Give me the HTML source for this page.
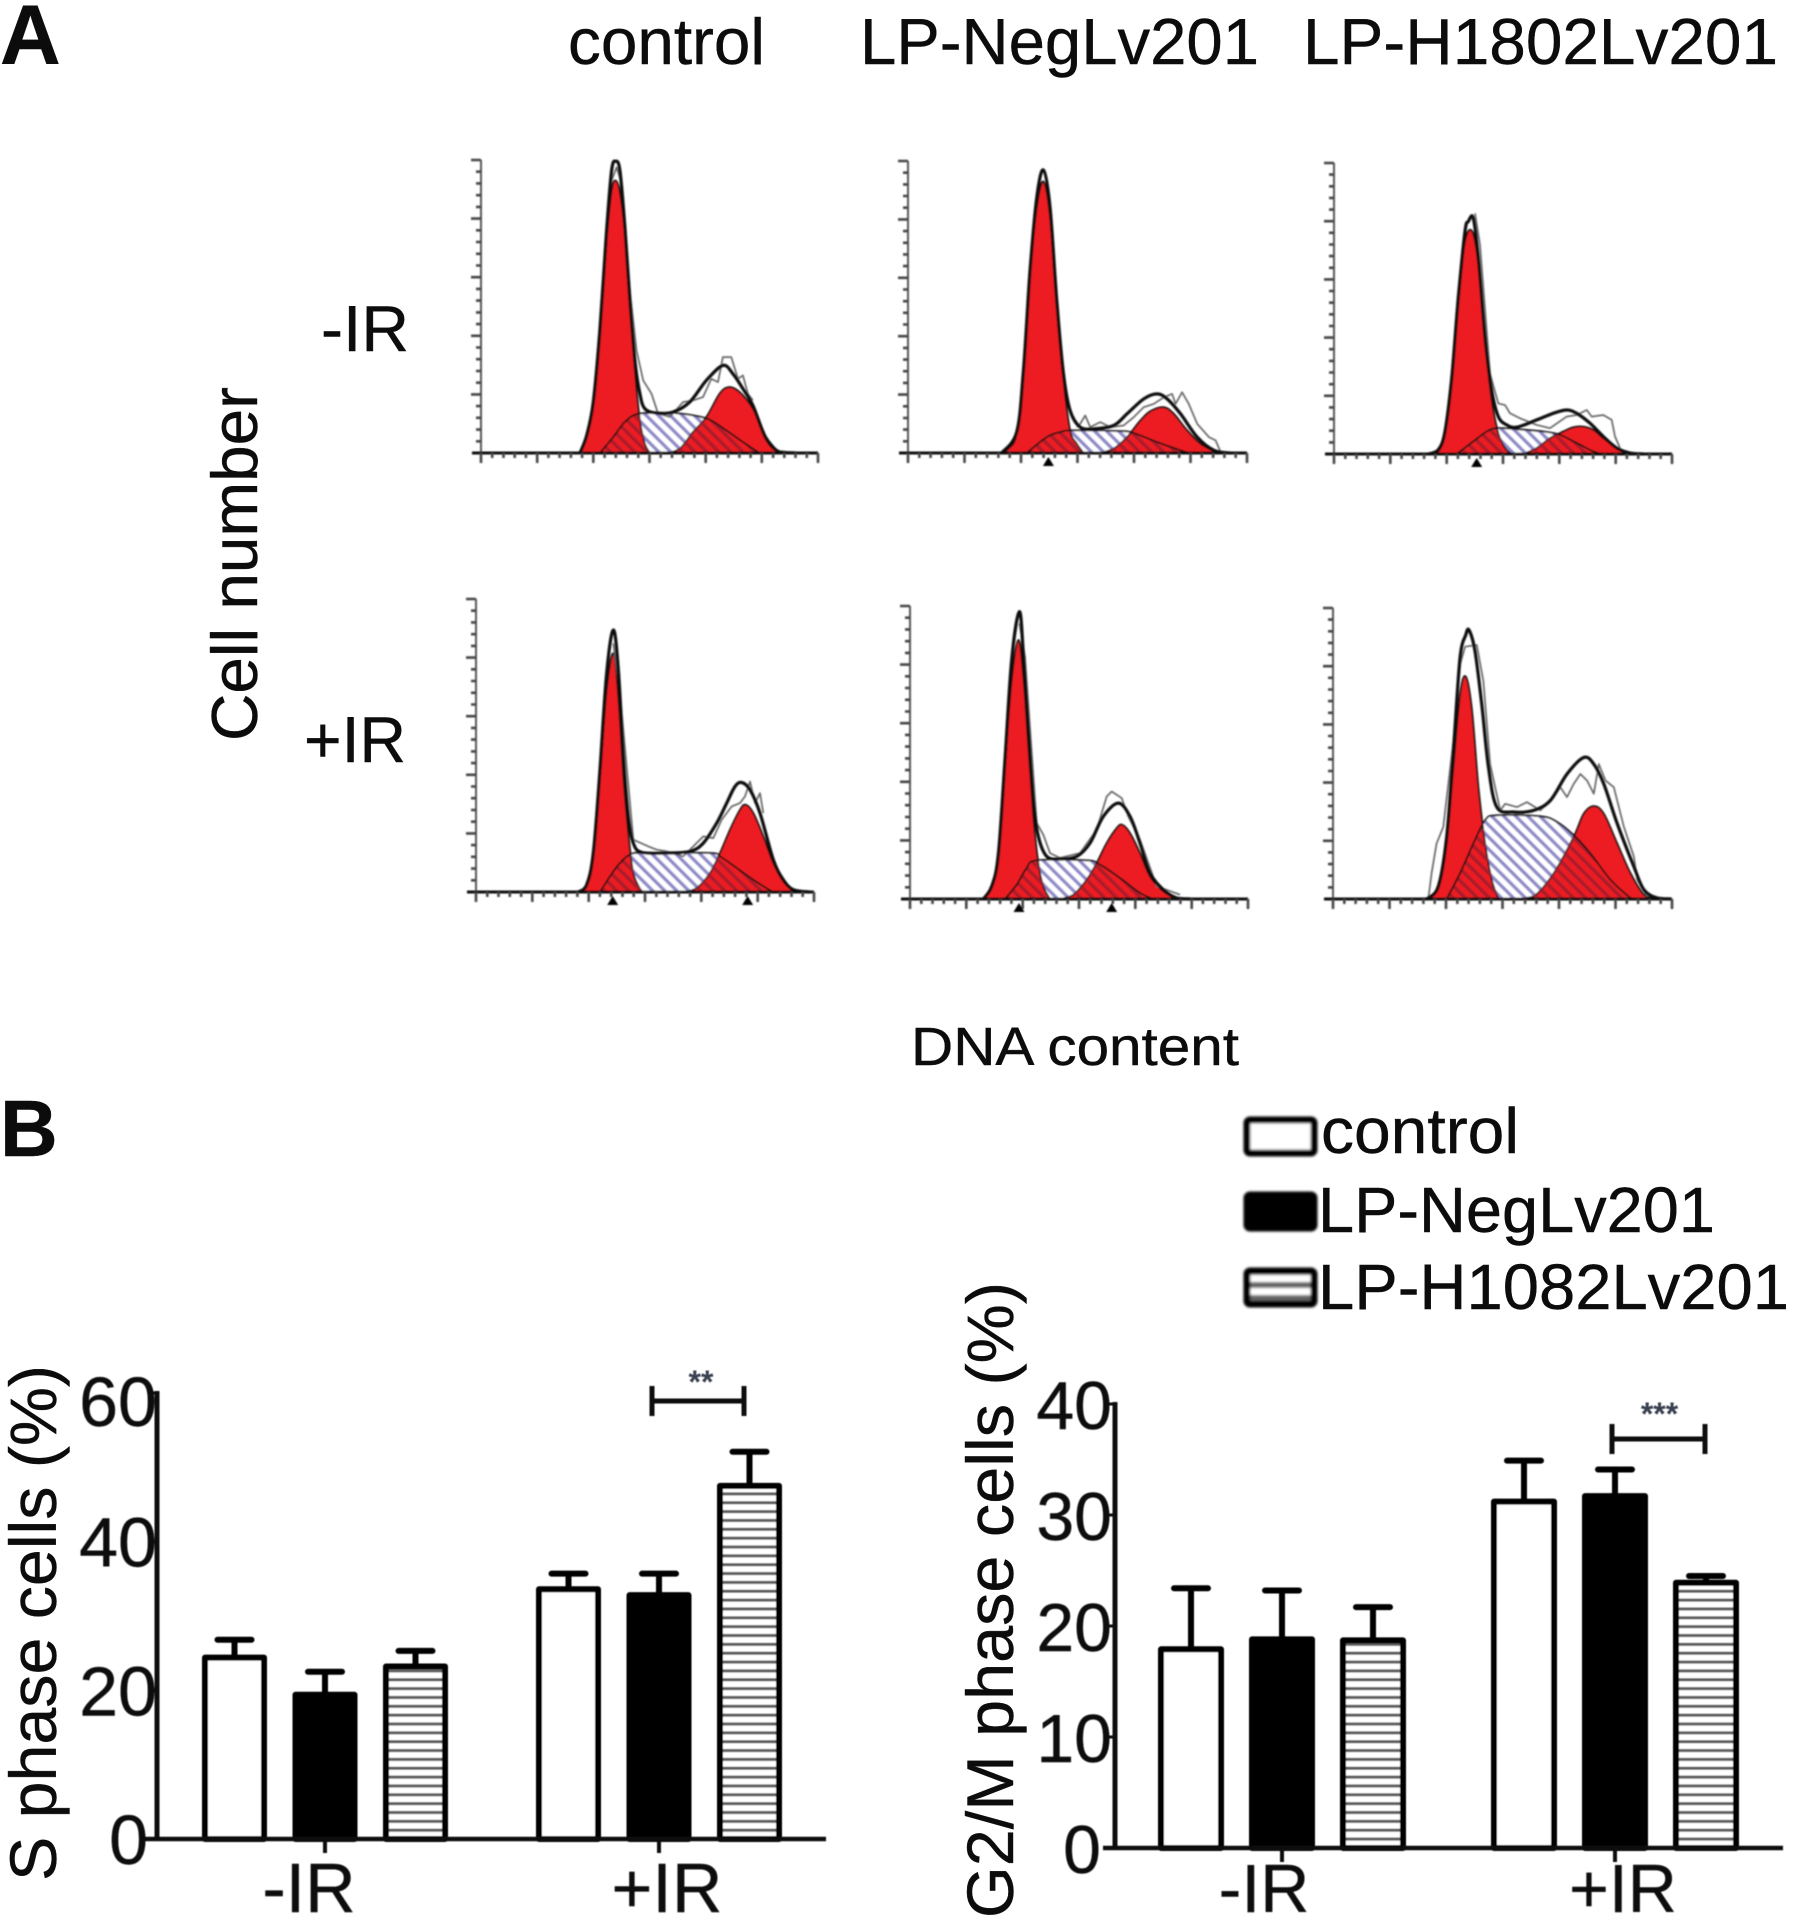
<!DOCTYPE html>
<html lang="en">
<head>
<meta charset="utf-8">
<title>Cell cycle histograms and bar charts</title>
<style>
html,body{margin:0;padding:0;background:#fff;}
body{width:1795px;height:1929px;overflow:hidden;}
svg{display:block;}
text{font-family:"Liberation Sans",Arial,sans-serif;fill:#0c0c0c;stroke:#0c0c0c;stroke-width:0.4;}
</style>
</head>
<body>
<svg id="figure" xmlns="http://www.w3.org/2000/svg" width="1795" height="1929" viewBox="0 0 1795 1929">
  <defs>
    <pattern id="hatch-s" patternUnits="userSpaceOnUse" width="8.5" height="8.5" patternTransform="rotate(-45)">
      <rect x="0" y="0" width="3.4" height="8.5" fill="#8c88c8"/>
    </pattern>
    <pattern id="hatch-red" patternUnits="userSpaceOnUse" width="8.5" height="8.5" patternTransform="rotate(-45)">
      <rect x="0" y="0" width="3.4" height="8.5" fill="#a81a2c"/>
    </pattern>
    <pattern id="stripes" patternUnits="userSpaceOnUse" width="8.85" height="8.85">
      <rect x="0" y="0" width="9" height="9" fill="#ffffff"/>
      <rect x="0" y="5.6" width="9" height="3" fill="#5c5c5c"/>
    </pattern>
    <pattern id="legend-stripes" patternUnits="userSpaceOnUse" width="13" height="13" y="1">
      <rect x="0" y="0" width="13" height="13" fill="#ffffff"/>
      <rect x="0" y="7" width="13" height="6" fill="#666666"/>
    </pattern>
    <filter id="soft" x="-5%" y="-5%" width="110%" height="110%"><feGaussianBlur stdDeviation="0.9"/></filter>
    <filter id="soft-bars" x="-5%" y="-5%" width="110%" height="110%"><feGaussianBlur stdDeviation="0.6"/></filter>
    <filter id="soft-box" x="-10%" y="-10%" width="120%" height="120%"><feGaussianBlur stdDeviation="1.4"/></filter>
  </defs>

  <text x="0" y="64" font-size="84" font-weight="bold">A</text>
  <text x="568" y="64" font-size="65" textLength="197" lengthAdjust="spacingAndGlyphs">control</text>
  <text x="860" y="64" font-size="65" textLength="399" lengthAdjust="spacingAndGlyphs">LP-NegLv201</text>
  <text x="1303" y="64" font-size="65" textLength="475" lengthAdjust="spacingAndGlyphs">LP-H1802Lv201</text>
  <text x="321" y="351" font-size="65" textLength="88" lengthAdjust="spacingAndGlyphs">-IR</text>
  <text x="304" y="762" font-size="65" textLength="102" lengthAdjust="spacingAndGlyphs">+IR</text>
  <text transform="translate(257,741) rotate(-90)" font-size="65" textLength="354" lengthAdjust="spacingAndGlyphs">Cell number</text>
  <text x="911" y="1065" font-size="54" textLength="328" lengthAdjust="spacingAndGlyphs">DNA content</text>

  <g id="histograms" filter="url(#soft)"></g>

  <text x="0" y="1156" font-size="80" font-weight="bold">B</text>

  <g>
    <g filter="url(#soft-box)">
      <rect x="1247" y="1120" width="67" height="33" fill="#fff" stroke="#000" stroke-width="7" rx="3"/>
      <rect x="1247" y="1195" width="67" height="33" fill="#000" stroke="#000" stroke-width="7" rx="3"/>
      <rect x="1247" y="1271" width="67" height="33" fill="url(#legend-stripes)" stroke="#000" stroke-width="7" rx="3"/>
    </g>
    <text x="1321" y="1153" font-size="64" textLength="198" lengthAdjust="spacingAndGlyphs">control</text>
    <text x="1318" y="1232" font-size="64" textLength="397" lengthAdjust="spacingAndGlyphs">LP-NegLv201</text>
    <text x="1318" y="1309" font-size="64" textLength="471" lengthAdjust="spacingAndGlyphs">LP-H1082Lv201</text>
  </g>

  <g id="chart-s" filter="url(#soft-bars)"></g>
  <g id="chart-g2" filter="url(#soft-bars)"></g>

  <text transform="translate(56,1881) rotate(-90)" font-size="66" textLength="516" lengthAdjust="spacingAndGlyphs">S phase cells (%)</text>
  <text transform="translate(1013,1918) rotate(-90)" font-size="66" textLength="636" lengthAdjust="spacingAndGlyphs">G2/M phase cells (%)</text>
</svg>

<script>
// ---- Bar chart data (percent of cells) ----
const categories = ['-IR', '+IR'];
const seriesNames = ['control', 'lp-neglv201', 'lp-h1082lv201'];
const sPhaseTickLabels = [0, 20, 40, 60];
const sPhaseControl = [24.4, 33.6];
const sPhaseNeg = [19.4, 32.8];
const sPhaseH1082 = [23.2, 47.5];
const sPhaseControlErrTop = [26.8, 35.7];
const sPhaseNegErrTop = [22.5, 35.7];
const sPhaseH1082ErrTop = [25.3, 52.1];
const g2mTickLabels = [0, 10, 20, 30, 40];
const g2mControl = [17.9, 31.2];
const g2mNeg = [18.8, 31.7];
const g2mH1082 = [18.7, 23.9];
const g2mControlErrTop = [23.4, 34.9];
const g2mNegErrTop = [23.2, 34.1];
const g2mH1082ErrTop = [21.7, 24.5];

// ---- Histogram data: [channel, count] ----
const ctrlMinusG1 = [[298,0],[318,48],[338,148],[358,368],[378,638],[393,788],[405,818],[418,783],[433,658],[448,448],[463,248],[478,98],[493,28],[508,0]];
const ctrlMinusS = [[358,0],[398,48],[428,88],[458,113],[498,120],[578,120],[638,113],[688,100],[738,68],[788,33],[838,0]];
const ctrlMinusG2 = [[558,0],[598,13],[638,63],[678,108],[718,178],[746,198],[778,183],[818,133],[858,48],[898,0]];
const ctrlMinusTotal = [[298,0],[318,53],[338,153],[358,373],[378,668],[393,848],[405,876],[418,848],[433,678],[448,458],[463,278],[478,178],[493,133],[528,120],[578,123],[628,153],[678,218],[728,263],[758,238],[788,193],[818,143],[858,43],[898,3],[948,0]];
const ctrlMinusRaw = [[393,818],[408,858],[423,808],[448,488],[468,308],[488,218],[513,178],[533,118],[568,108],[608,153],[638,158],[668,168],[693,223],[713,213],[728,288],[753,288],[773,223],[788,233],[803,178],[818,158]];
const ctrlMinusMarks = [];

const negMinusG1 = [[280,0],[300,13],[325,58],[345,238],[365,538],[385,738],[405,818],[425,708],[445,438],[465,218],[485,68],[505,28],[525,0]];
const negMinusS = [[355,0],[415,48],[455,63],[490,68],[635,66],[675,60],[745,33],[815,8],[845,0]];
const negMinusG2 = [[575,0],[615,13],[655,48],[695,98],[725,126],[765,138],[795,118],[835,68],[875,28],[925,0]];
const negMinusTotal = [[280,0],[325,63],[345,243],[365,548],[385,768],[405,853],[425,738],[445,458],[465,238],[485,128],[515,78],[555,73],[615,83],[655,118],[705,163],[745,178],[775,163],[815,118],[865,48],[915,8],[965,0]];
const negMinusRaw = [[505,78],[515,88],[530,113],[545,78],[575,93],[605,78],[645,83],[675,108],[705,138],[735,148],[765,168],[790,178],[800,148],[820,183],[840,148],[865,88],[900,48],[920,38],[935,3]];
const negMinusMarks = [420];

const hMinusG1 = [[283,0],[313,8],[333,63],[353,223],[373,463],[393,643],[415,673],[433,573],[453,343],[473,163],[493,63],[513,18],[533,0]];
const hMinusS = [[368,0],[418,38],[458,68],[488,78],[548,75],[628,68],[678,58],[728,33],[778,8],[808,0]];
const hMinusG2 = [[568,0],[608,18],[648,48],[688,68],[718,81],[748,83],[778,73],[808,48],[848,18],[888,0]];
const hMinusTotal = [[283,0],[313,13],[333,68],[353,228],[373,473],[393,673],[403,703],[418,713],[433,593],[453,353],[473,193],[493,113],[518,88],[548,81],[608,103],[658,123],[698,133],[728,123],[768,93],[808,53],[848,18],[888,3],[928,0]];
const hMinusRaw = [[423,728],[438,633],[468,243],[493,153],[513,148],[528,123],[558,108],[608,88],[648,78],[698,113],[728,118],[758,133],[773,113],[808,118],[833,103],[843,53],[858,18]];
const hMinusMarks = [428];

const ctrlPlusG1 = [[307,0],[332,17],[352,107],[372,347],[392,607],[412,717],[427,587],[442,347],[457,177],[472,57],[497,0]];
const ctrlPlusS = [[372,0],[402,47],[432,87],[467,115],[522,117],[702,117],[732,107],[782,72],[832,37],[887,2],[897,0]];
const ctrlPlusG2 = [[622,0],[662,12],[702,57],[732,117],[762,187],[792,247],[809,262],[832,237],[862,167],[892,87],[922,32],[952,2]];
const ctrlPlusTotal = [[307,0],[332,22],[352,117],[372,367],[392,657],[412,787],[427,667],[442,407],[457,227],[472,147],[497,119],[572,117],[642,122],[682,147],[722,207],[752,267],[777,317],[797,329],[822,307],[852,237],[892,97],[922,37],[952,7],[1002,0]];
const ctrlPlusRaw = [[412,747],[432,597],[472,157],[517,137],[542,127],[572,122],[622,107],[682,167],[712,162],[737,217],[767,257],[792,267],[807,287],[822,332],[837,267],[852,297],[862,237]];
const ctrlPlusMarks = [410, 815];

const negPlusG1 = [[220,0],[245,33],[265,128],[285,398],[305,658],[325,778],[340,668],[355,458],[370,248],[385,108],[400,38],[420,0]];
const negPlusS = [[285,0],[320,43],[350,93],[380,116],[530,116],[570,103],[630,63],[690,18],[730,0]];
const negPlusG2 = [[450,0],[490,13],[530,58],[560,108],[590,168],[620,213],[637,223],[660,198],[690,138],[720,68],[760,23],[800,0]];
const negPlusTotal = [[220,0],[245,38],[265,133],[285,418],[305,718],[328,863],[340,738],[355,508],[370,298],[385,188],[410,128],[450,120],[500,128],[540,168],[580,248],[625,288],[660,248],[690,168],[720,78],[760,28],[800,3],[840,0]];
const negPlusRaw = [[328,828],[345,728],[380,228],[400,193],[420,138],[450,123],[510,138],[560,208],[590,308],[605,323],[635,303],[655,248],[690,178],[740,38],[810,13]];
const negPlusMarks = [327, 605];

const hPlusG1 = [[280,0],[315,33],[340,168],[360,398],[380,618],[397,673],[415,578],[435,338],[455,168],[475,58],[495,0]];
const hPlusS = [[340,0],[380,78],[420,168],[455,238],[490,253],[620,250],[670,233],[720,193],[770,138],[830,58],[890,3],[900,0]];
const hPlusG2 = [[540,0],[600,8],[660,78],[720,188],[750,258],[780,281],[810,258],[850,168],[890,78],[930,13],[970,0]];
const hPlusTotal = [[280,0],[315,38],[340,188],[360,448],[380,728],[397,798],[407,813],[425,748],[445,588],[465,398],[490,278],[540,263],[600,268],[650,298],[700,378],[750,428],[780,408],[810,348],[850,228],[900,98],[930,28],[970,3],[1010,0]];
const hPlusRaw = [[285,0],[295,78],[310,168],[330,218],[360,478],[380,708],[395,763],[430,768],[450,658],[470,408],[500,268],[515,288],[550,278],[580,293],[620,268],[650,298],[680,338],[700,308],[720,348],[740,378],[760,358],[780,318],[795,408],[815,358],[840,338],[870,218],[900,128],[910,58],[940,8]];
const hPlusMarks = [];

const NS = 'http://www.w3.org/2000/svg';
function mk(tag, parent, attrs) {
  const el = document.createElementNS(NS, tag);
  for (const k in attrs) el.setAttribute(k, attrs[k]);
  parent.appendChild(el);
  return el;
}

// ---- Histogram drawing ----
const CHANNEL_MAX = 1014;
const COUNT_MAX = 880;

function smoothPath(pts, sx, sy, baseY) {
  let d = 'M' + sx(pts[0][0]).toFixed(1) + ' ' + sy(pts[0][1]).toFixed(1);
  for (let i = 0; i < pts.length - 1; i++) {
    const p0 = pts[Math.max(i - 1, 0)], p1 = pts[i], p2 = pts[i + 1], p3 = pts[Math.min(i + 2, pts.length - 1)];
    const c1x = sx(p1[0]) + (sx(p2[0]) - sx(p0[0])) / 6;
    const c1y = Math.min(baseY, sy(p1[1]) + (sy(p2[1]) - sy(p0[1])) / 6);
    const c2x = sx(p2[0]) - (sx(p3[0]) - sx(p1[0])) / 6;
    const c2y = Math.min(baseY, sy(p2[1]) - (sy(p3[1]) - sy(p1[1])) / 6);
    d += 'C' + c1x.toFixed(1) + ' ' + c1y.toFixed(1) + ' ' + c2x.toFixed(1) + ' ' + c2y.toFixed(1) + ' ' + sx(p2[0]).toFixed(1) + ' ' + sy(p2[1]).toFixed(1);
  }
  return d;
}

function jaggedPath(pts, sx, sy) {
  return pts.map(function (p, i) {
    return (i ? 'L' : 'M') + sx(p[0]).toFixed(1) + ' ' + sy(p[1]).toFixed(1);
  }).join('');
}

function drawHistogram(root, name, box, g1, s, g2, total, raw, marks) {
  const g = mk('g', root, {});
  
  
  const sx = function (c) { return box.x0 + c / CHANNEL_MAX * (box.x1 - box.x0); };
  const sy = function (v) { return box.base - v / COUNT_MAX * (box.base - box.top); };
  const closeArea = function (pts) {
    return smoothPath(pts, sx, sy, box.base) + 'L' + sx(pts[pts.length - 1][0]).toFixed(1) + ' ' + box.base + 'L' + sx(pts[0][0]).toFixed(1) + ' ' + box.base + 'Z';
  };

  const clip = mk('clipPath', g, { id: 'clip-s-' + name });
  mk('path', clip, { d: closeArea(s) });

  const sBack = mk('path', g, { d: closeArea(s), fill: '#ffffff' });
  
  

  const sHatch = mk('path', g, { d: closeArea(s), fill: 'url(#hatch-s)' });
  
  

  const g1Area = mk('path', g, { d: closeArea(g1), fill: '#ed1c24', stroke: '#111', 'stroke-width': 1.8 });
  
  

  const g2Area = mk('path', g, { d: closeArea(g2), fill: '#ed1c24', stroke: '#111', 'stroke-width': 1.8 });
  
  

  const g1Overlap = mk('path', g, { d: closeArea(g1), fill: 'url(#hatch-red)', 'clip-path': 'url(#clip-s-' + name + ')' });
  
  

  const g2Overlap = mk('path', g, { d: closeArea(g2), fill: 'url(#hatch-red)', 'clip-path': 'url(#clip-s-' + name + ')' });
  
  

  const sLine = mk('path', g, { d: smoothPath(s, sx, sy, box.base), fill: 'none', stroke: '#111', 'stroke-width': 1.8 });
  
  

  const rawLine = mk('path', g, { d: jaggedPath(raw, sx, sy), fill: 'none', stroke: '#666', 'stroke-width': 1.7, 'stroke-linejoin': 'round' });
  
  

  const totalLine = mk('path', g, { d: smoothPath(total, sx, sy, box.base), fill: 'none', stroke: '#0a0a0a', 'stroke-width': 3.2, 'stroke-linejoin': 'round' });
  
  

  // axes
  const yAxis = mk('line', g, { x1: box.x0, x2: box.x0, y1: box.top, y2: box.base + 8, stroke: '#555', 'stroke-width': 2 });
  
  
  const xAxis = mk('line', g, { x1: box.x0 - 9, x2: box.x1, y1: box.base, y2: box.base, stroke: '#111', 'stroke-width': 3 });
  
  

  const ticks = mk('g', g, { stroke: '#444', 'stroke-width': 2.6, fill: 'none' });
  
  
  let d = '';
  for (let i = 0; i <= 30; i++) {
    const px = sx(CHANNEL_MAX * i / 30);
    d += 'M' + px.toFixed(1) + ' ' + box.base + 'V' + (box.base + (i % 5 === 0 ? 10 : 5));
  }
  for (let i = 1; i <= 25; i++) {
    const py = sy(COUNT_MAX * i / 25);
    d += 'M' + box.x0 + ' ' + py.toFixed(1) + 'H' + (box.x0 - (i % 5 === 0 ? 10 : 5));
  }
  mk('path', ticks, { d: d });

  marks.forEach(function (c) {
    const tri = mk('path', g, { d: 'M' + sx(c) + ' ' + (box.base + 4) + 'l5.5 9h-11z', fill: '#000' });
    
    
  });
}

const histRoot = document.getElementById('histograms');
drawHistogram(histRoot, 'control-minus-ir', { x0: 481, x1: 818, base: 453, top: 160 }, ctrlMinusG1, ctrlMinusS, ctrlMinusG2, ctrlMinusTotal, ctrlMinusRaw, ctrlMinusMarks);
drawHistogram(histRoot, 'neg-minus-ir', { x0: 908, x1: 1247, base: 453, top: 161 }, negMinusG1, negMinusS, negMinusG2, negMinusTotal, negMinusRaw, negMinusMarks);
drawHistogram(histRoot, 'h1802-minus-ir', { x0: 1334, x1: 1672, base: 454, top: 163 }, hMinusG1, hMinusS, hMinusG2, hMinusTotal, hMinusRaw, hMinusMarks);
drawHistogram(histRoot, 'control-plus-ir', { x0: 476, x1: 814, base: 892, top: 599 }, ctrlPlusG1, ctrlPlusS, ctrlPlusG2, ctrlPlusTotal, ctrlPlusRaw, ctrlPlusMarks);
drawHistogram(histRoot, 'neg-plus-ir', { x0: 910, x1: 1248, base: 899, top: 606 }, negPlusG1, negPlusS, negPlusG2, negPlusTotal, negPlusRaw, negPlusMarks);
drawHistogram(histRoot, 'h1802-plus-ir', { x0: 1333, x1: 1672, base: 899, top: 608 }, hPlusG1, hPlusS, hPlusG2, hPlusTotal, hPlusRaw, hPlusMarks);

// ---- Bar chart drawing ----
function drawBarChart(root, cfg) {
  const sy = function (v) { return cfg.y0 - (v / cfg.maxValue) * (cfg.y0 - cfg.yTop); };
  const barLeft = function (gi, si) { return cfg.groupLeft[gi] + si * cfg.pitch; };
  const fills = ['#ffffff', '#000000', 'url(#stripes)'];

  cfg.tickLabels.forEach(function (t) {
    const y = sy(t);
    const tickMark = mk('line', root, { x1: cfg.axisX - 9, x2: cfg.axisX, y1: y, y2: y, stroke: '#111', 'stroke-width': 3 });
    
    
    const topShift = t === cfg.maxValue ? cfg.topLabelShift : 0;
    const label = mk('text', root, { x: t === 0 ? cfg.zeroLabelRight : cfg.labelRight, y: y + 25 + topShift, 'font-size': cfg.fontSize, 'text-anchor': 'end' });
    
    
    label.textContent = String(t);
  });

  cfg.series.forEach(function (values, si) {
    values.forEach(function (v, gi) {
      const left = barLeft(gi, si);
      const cx = left + cfg.barWidth / 2;
      const errTop = sy(cfg.errors[si][gi]);
      const errLine = mk('path', root, { d: 'M' + cx + ' ' + sy(v) + 'V' + errTop + 'M' + (cx - 17) + ' ' + errTop + 'H' + (cx + 17), fill: 'none', stroke: '#000', 'stroke-width': 6, 'stroke-linecap': 'round' });
      
      
      const bar = mk('rect', root, { x: left + 3, y: sy(v), width: cfg.barWidth - 6, height: cfg.y0 - sy(v), fill: fills[si], stroke: '#000', 'stroke-width': 6, 'stroke-linejoin': 'round' });
      
      
    });
  });

  const yAxis = mk('line', root, { x1: cfg.axisX, x2: cfg.axisX, y1: cfg.yTop - 2, y2: cfg.y0, stroke: '#111', 'stroke-width': 5 });
  
  
  const xAxis = mk('line', root, { x1: cfg.axisX - 12, x2: cfg.xEnd, y1: cfg.y0, y2: cfg.y0, stroke: '#111', 'stroke-width': 4.5 });
  
  

  categories.forEach(function (c, gi) {
    const tx = barLeft(gi, 1) + cfg.barWidth / 2;
    const tick = mk('line', root, { x1: tx, x2: tx, y1: cfg.y0, y2: cfg.y0 + 14, stroke: '#111', 'stroke-width': 4 });
    
    
    const label = mk('text', root, { x: cfg.labelX[gi], y: cfg.labelY, 'font-size': cfg.fontSize, 'text-anchor': 'middle' });
    
    
    label.textContent = c;
  });

  const b = cfg.bracket;
  const bracket = mk('path', root, { d: 'M' + b.x1 + ' ' + b.y + 'H' + b.x2 + 'M' + b.x1 + ' ' + (b.y - 15) + 'V' + (b.y + 15) + 'M' + b.x2 + ' ' + (b.y - 15) + 'V' + (b.y + 15), fill: 'none', stroke: '#111', 'stroke-width': 5 });
  
  
  const stars = mk('text', root, { x: (b.x1 + b.x2) / 2 + b.starsDx, y: b.starsY, 'font-size': 32, 'font-weight': 'bold', 'text-anchor': 'middle', style: 'fill:#39404f;stroke:none' });
  
  
  stars.textContent = b.stars;
}

drawBarChart(document.getElementById('chart-s'), {
  y0: 1839, yTop: 1393, maxValue: 60, axisX: 157, xEnd: 826,
  groupLeft: [202, 536], pitch: 90.5, barWidth: 65,
  labelX: [309, 667], labelY: 1912, fontSize: 70,
  labelRight: 157, zeroLabelRight: 148, topLabelShift: 8,
  tickLabels: sPhaseTickLabels,
  series: [sPhaseControl, sPhaseNeg, sPhaseH1082],
  errors: [sPhaseControlErrTop, sPhaseNegErrTop, sPhaseH1082ErrTop],
  bracket: { x1: 652, x2: 744, y: 1401, stars: '**', starsDx: 3, starsY: 1393 }
});

drawBarChart(document.getElementById('chart-g2'), {
  y0: 1848, yTop: 1404, maxValue: 40, axisX: 1115, xEnd: 1783,
  groupLeft: [1158, 1491], pitch: 91, barWidth: 66,
  labelX: [1264, 1623], labelY: 1912, fontSize: 68,
  labelRight: 1112, zeroLabelRight: 1101, topLabelShift: 0,
  tickLabels: g2mTickLabels,
  series: [g2mControl, g2mNeg, g2mH1082],
  errors: [g2mControlErrTop, g2mNegErrTop, g2mH1082ErrTop],
  bracket: { x1: 1612, x2: 1705, y: 1439, stars: '***', starsDx: 1, starsY: 1425 }
});
</script>
</body>
</html>
